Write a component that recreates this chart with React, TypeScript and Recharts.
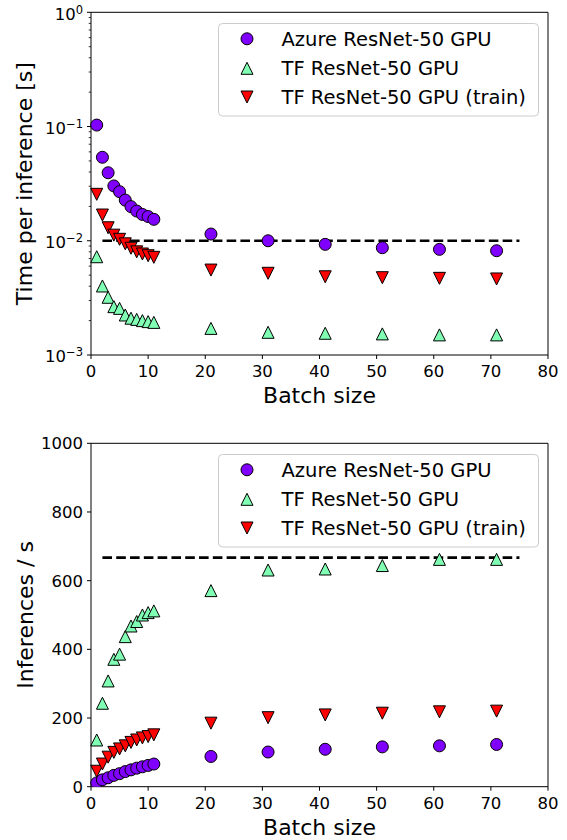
import React from 'react';
import { ScatterChart, Scatter, XAxis, YAxis, ReferenceLine, Legend } from 'recharts';

// batch sizes used for every series
const BATCH = [1, 2, 3, 4, 5, 6, 7, 8, 9, 10, 11, 21, 31, 41, 51, 61, 71];

// top panel: time per inference [s]
const AZURE_TIME = [0.103, 0.0538, 0.0394, 0.0302, 0.0269, 0.0227, 0.0199, 0.0182, 0.017, 0.0163, 0.0154, 0.01145, 0.01, 0.0093, 0.00869, 0.00841, 0.00818];
const TF_TIME = [0.00725, 0.00402, 0.0032, 0.00265, 0.00256, 0.00224, 0.0021, 0.00205, 0.002, 0.00196, 0.00193, 0.00171, 0.00158, 0.00155, 0.00153, 0.0015, 0.0015];
const TRAIN_TIME = [0.0255, 0.0168, 0.013, 0.0112, 0.0103, 0.0094, 0.0086, 0.008, 0.00766, 0.0074, 0.00716, 0.00554, 0.00519, 0.00484, 0.00475, 0.00469, 0.00463];

// bottom panel: inferences / s
const AZURE_RATE = [11, 20, 26, 33, 38, 44, 49, 54, 58, 62, 66, 88, 101, 109, 116, 119, 123];
const TF_RATE = [136, 243, 308, 371, 386, 437, 468, 481, 500, 507, 512, 571, 631, 634, 644, 662, 662];
const TRAIN_RATE = [45, 66, 86, 100, 110, 119, 129, 136, 142, 146, 151, 185, 201, 209, 214, 218, 220];

const NAMES = ['Azure ResNet-50 GPU', 'TF ResNet-50 GPU', 'TF ResNet-50 GPU (train)'];
const COLORS = ['#8000ff', '#80ffb4', '#ff0000'];
const KINDS = ['circle', 'up', 'down'];

const X_TICKS = [0, 10, 20, 30, 40, 50, 60, 70, 80];
const LOG_MAJOR = [0.001, 0.01, 0.1, 1];
const LOG_EXP = ['\u22123', '\u22122', '\u22121', '0'];
const LOG_MINOR = [
  0.002, 0.003, 0.004, 0.005, 0.006, 0.007, 0.008, 0.009,
  0.02, 0.03, 0.04, 0.05, 0.06, 0.07, 0.08, 0.09,
  0.2, 0.3, 0.4, 0.5, 0.6, 0.7, 0.8, 0.9,
];
const RATE_TICKS = [0, 200, 400, 600, 800, 1000];

// dashed reference line
const DASH_X = [2, 75];
const DASH_TIME = 0.01;
const DASH_RATE = 667;

const W = 567;
const H = 420;
const TICK_FS = 16.5;
const LABEL_FS = 22;
const LEGEND_FS = 19.5;
const SPINE = { stroke: '#000', strokeWidth: 1 };

const pts = (ys: number[]) => BATCH.map((x, i) => ({ x, y: ys[i] }));

function Marker({ kind, cx, cy, fill }: any) {
  const r = 6;
  if (kind === 'circle') {
    return <circle cx={cx} cy={cy} r={r} fill={fill} stroke="#000" strokeWidth={1} />;
  }
  const d = kind === 'up'
    ? `M${cx},${cy - r}L${cx - r},${cy + r}L${cx + r},${cy + r}Z`
    : `M${cx},${cy + r}L${cx - r},${cy - r}L${cx + r},${cy - r}Z`;
  return <path d={d} fill={fill} stroke="#000" strokeWidth={1} />;
}

function XTick({ x, y, payload }: any) {
  return (
    <g>
      <line x1={x} x2={x} y1={y} y2={y + 4} stroke="#000" strokeWidth={1} />
      <text x={x} y={y + 22} textAnchor="middle" fontSize={TICK_FS} fill="#000">{payload.value}</text>
    </g>
  );
}

function LogTick({ x, y, payload }: any) {
  const i = LOG_MAJOR.indexOf(payload.value);
  if (i < 0) {
    return <line x1={x - 2.3} x2={x} y1={y} y2={y} stroke="#000" strokeWidth={0.8} />;
  }
  return (
    <g>
      <line x1={x - 4} x2={x} y1={y} y2={y} stroke="#000" strokeWidth={1} />
      <text x={x - 8} y={y + 7.3} textAnchor="end" fontSize={TICK_FS} fill="#000">
        10<tspan dy={-5.9} fontSize={11.5}>{LOG_EXP[i]}</tspan>
      </text>
    </g>
  );
}

function LinTick({ x, y, payload }: any) {
  return (
    <g>
      <line x1={x - 4} x2={x} y1={y} y2={y} stroke="#000" strokeWidth={1} />
      <text x={x - 8} y={y + 6} textAnchor="end" fontSize={TICK_FS} fill="#000">{payload.value}</text>
    </g>
  );
}

const xLabel = (text: string) => (props: any) => {
  const vb = props.viewBox || { x: 91, y: 355, width: 457 };
  return (
    <text x={vb.x + vb.width / 2} y={vb.y + 48} textAnchor="middle" fontSize={LABEL_FS} fill="#000">{text}</text>
  );
};

const yLabel = (text: string) => (props: any) => {
  const vb = props.viewBox || { x: 90, y: 12, width: 1, height: 343 };
  const lx = vb.x + vb.width - 58.5;
  const ly = vb.y + vb.height / 2;
  return (
    <text x={lx} y={ly} transform={`rotate(-90, ${lx}, ${ly})`} textAnchor="middle" fontSize={LABEL_FS} fill="#000">{text}</text>
  );
};

function LegendBox() {
  const rows = [15.8, 45.3, 74];
  return (
    <svg width={322} height={94} style={{ display: 'block' }}>
      <rect x={0.5} y={0.5} width={320} height={92.5} rx={4} fill="#fff" fillOpacity={0.8} stroke="#cccccc" strokeWidth={1} />
      {NAMES.map((n, i) => (
        <g key={n}>
          <Marker kind={KINDS[i]} cx={29} cy={rows[i]} fill={COLORS[i]} />
          <text x={63.5} y={rows[i] + 7} fontSize={LEGEND_FS} fill="#000">{n}</text>
        </g>
      ))}
    </svg>
  );
}

const frameAxes = (domainY: [number, number]) => [
  <XAxis key="xt" xAxisId="top" orientation="top" type="number" domain={[0, 80]} height={1} tick={false} tickLine={false} axisLine={SPINE} />,
  <YAxis key="yr" yAxisId="right" orientation="right" type="number" domain={domainY} width={1} tick={false} tickLine={false} axisLine={SPINE} />,
];

function TimePanel() {
  const series = [AZURE_TIME, TF_TIME, TRAIN_TIME];
  return (
    <ScatterChart width={W} height={H} margin={{ top: 11.3, right: 18, bottom: 64, left: 90 }}>
      <XAxis
        dataKey="x" type="number" domain={[0, 80]} ticks={X_TICKS} interval={0}
        height={1} tickSize={0} tickMargin={0} tickLine={false} tick={<XTick />}
        axisLine={SPINE}
        label={{ content: xLabel('Batch size') }}
      />
      <YAxis
        dataKey="y" type="number" scale="log" domain={[0.001, 1]} allowDataOverflow
        ticks={[...LOG_MAJOR, ...LOG_MINOR]} interval={0}
        width={1} tickSize={0} tickMargin={0} tickLine={false} tick={<LogTick />}
        axisLine={SPINE}
        label={{ content: yLabel('Time per inference [s]') }}
      />
      {frameAxes([0.001, 1])}
      {series.map((s, i) => (
        <Scatter key={NAMES[i]} name={NAMES[i]} data={pts(s)} fill={COLORS[i]} isAnimationActive={false}
          shape={(p: any) => <Marker kind={KINDS[i]} cx={p.cx} cy={p.cy} fill={COLORS[i]} />} />
      ))}
      <ReferenceLine
        segment={[{ x: DASH_X[0], y: DASH_TIME }, { x: DASH_X[1], y: DASH_TIME }]}
        stroke="#000" strokeWidth={2.6} strokeDasharray="9.6 4.2"
      />
      <Legend layout="vertical" align="center" verticalAlign="middle"
        wrapperStyle={{ left: 217.5, top: 22.5, width: 322, height: 94 }} content={() => <LegendBox />} />
    </ScatterChart>
  );
}

function RatePanel() {
  const series = [AZURE_RATE, TF_RATE, TRAIN_RATE];
  return (
    <ScatterChart width={W} height={H} margin={{ top: 22.3, right: 18, bottom: 52.3, left: 90 }}>
      <XAxis
        dataKey="x" type="number" domain={[0, 80]} ticks={X_TICKS} interval={0}
        height={1} tickSize={0} tickMargin={0} tickLine={false} tick={<XTick />}
        axisLine={SPINE}
        label={{ content: xLabel('Batch size') }}
      />
      <YAxis
        dataKey="y" type="number" domain={[0, 1000]} allowDataOverflow
        ticks={RATE_TICKS} interval={0}
        width={1} tickSize={0} tickMargin={0} tickLine={false} tick={<LinTick />}
        axisLine={SPINE}
        label={{ content: yLabel('Inferences / s') }}
      />
      {frameAxes([0, 1000])}
      {series.map((s, i) => (
        <Scatter key={NAMES[i]} name={NAMES[i]} data={pts(s)} fill={COLORS[i]} isAnimationActive={false}
          shape={(p: any) => <Marker kind={KINDS[i]} cx={p.cx} cy={p.cy} fill={COLORS[i]} />} />
      ))}
      <ReferenceLine
        segment={[{ x: DASH_X[0], y: DASH_RATE }, { x: DASH_X[1], y: DASH_RATE }]}
        stroke="#000" strokeWidth={2.6} strokeDasharray="9.6 4.2"
      />
      <Legend layout="vertical" align="center" verticalAlign="middle"
        wrapperStyle={{ left: 217.5, top: 34, width: 322, height: 94 }} content={() => <LegendBox />} />
    </ScatterChart>
  );
}

export default function App() {
  return (
    <div style={{ position: 'absolute', left: 0, top: 0, width: W, height: 840, background: '#fff', fontFamily: '"DejaVu Sans", sans-serif' }}>
      <TimePanel />
      <RatePanel />
    </div>
  );
}
